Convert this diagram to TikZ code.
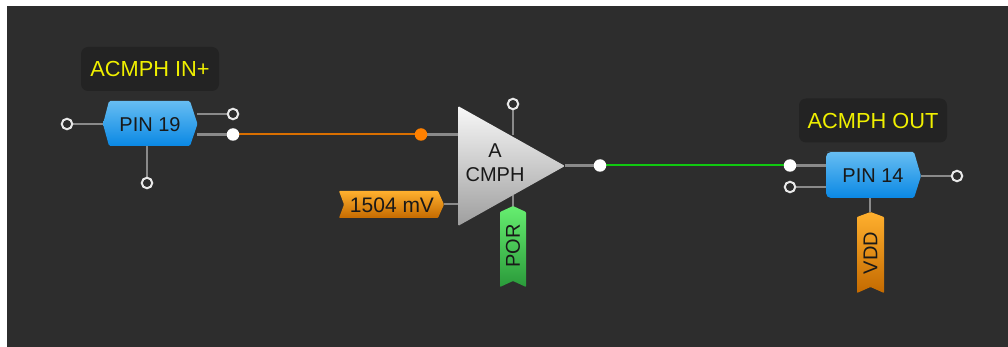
\documentclass[tikz,border=0pt]{standalone}
\usepackage{fontspec}
\usetikzlibrary{backgrounds}
\setmainfont{Liberation Sans}
\definecolor{bg}{HTML}{2D2D2D}
\definecolor{tagbg}{HTML}{232323}
\definecolor{wire}{HTML}{8A8A8A}
\definecolor{ringc}{HTML}{E8E8E8}
\definecolor{labely}{HTML}{F0F000}
\definecolor{blueT}{HTML}{66BDF2}
\definecolor{blueB}{HTML}{0A88E4}
\definecolor{orT}{HTML}{FFB02E}
\definecolor{orB}{HTML}{C46A00}
\definecolor{grT}{HTML}{66EE70}
\definecolor{grB}{HTML}{2A9A3A}
\definecolor{sigO}{HTML}{D96F00}
\definecolor{sigG}{HTML}{10C810}
\definecolor{odotc}{HTML}{FF8000}
\tikzset{
  x=1pt,y=-1pt,
  tag/.style={fill=tagbg,rounded corners=7pt,minimum height=44pt,inner sep=0pt,text=labely,font=\fontsize{21.8}{24}\selectfont},
  txt/.style={inner sep=0pt,text=black!90,font=\fontsize{20}{22}\selectfont},
  ring/.style={circle,draw=ringc,line width=2pt,fill=bg,minimum size=10.5pt,inner sep=0pt},
  dot/.style={circle,fill=white,minimum size=12.5pt,inner sep=0pt},
  odot/.style={circle,fill=odotc,minimum size=12.5pt,inner sep=0pt},
  wr/.style={draw=wire,line width=2.3pt},
  sig/.style={line width=2pt},
  bluebody/.style={top color=blueT,bottom color=blueB,rounded corners=1.5pt},
  orbody/.style={top color=orT,bottom color=orB,rounded corners=0.8pt},
  grbody/.style={top color=grT,bottom color=grB,rounded corners=0.8pt},
  tribody/.style={top color=white!97!black,bottom color=black!38,rounded corners=1.2pt}
}
\begin{document}
\begin{tikzpicture}
\useasboundingbox (0,0) rectangle (1008,347);
% anchor points
\coordinate (p19l) at (103,124);
\coordinate (p19a) at (197,114);
\coordinate (p19b) at (197,134.5);
\coordinate (p19d) at (147,146);
\coordinate (triA) at (458,134.5);
\coordinate (triB) at (458,204);
\coordinate (triT) at (513,135);
\coordinate (triD) at (513,195);
\coordinate (triO) at (565,165.5);
\coordinate (mvR) at (444,204);
\coordinate (porT) at (513,207);
\coordinate (p14a) at (826,165.5);
\coordinate (p14b) at (826,187);
\coordinate (p14r) at (921,176);
\coordinate (p14d) at (870,198);
\coordinate (vddT) at (870,212);
% terminals
\node[ring] (r1) at (67,124) {};
\node[ring] (r2) at (233,114) {};
\node[ring] (r3) at (147,183) {};
\node[ring] (r4) at (513,104) {};
\node[ring] (r5) at (790,187) {};
\node[ring] (r6) at (957,176) {};
\node[dot] (d1) at (233,134.5) {};
\node[odot] (d2) at (421,134.5) {};
\node[dot] (d3) at (600,165.5) {};
\node[dot] (d4) at (790,165.5) {};
% connectors
\begin{scope}[on background layer]
\fill[white] (0,0) rectangle (1008,347);
\fill[bg] (7,6) rectangle (1008,347);
\draw[wr] (r1) -- (p19l);
\draw[wr] (p19a) -- (r2);
\draw[wr] (p19b) -- (d1);
\draw[wr] (p19d) -- (r3);
\draw[wr] (d2) -- (triA);
\draw[wr] (r4) -- (triT);
\draw[wr] (mvR) -- (triB);
\draw[wr] (triD) -- (porT);
\draw[wr] (triO) -- (d3);
\draw[wr] (d4) -- (p14a);
\draw[wr] (r5) -- (p14b);
\draw[wr] (p14r) -- (r6);
\draw[wr] (p14d) -- (vddT);
\draw[sig,draw=sigO] (d1) -- (d2);
\draw[sig,draw=sigG] (d3) -- (d4);
\end{scope}
% bodies
\shade[bluebody] (109,101) -- (190,101) -- (197.5,124) -- (190,146) -- (109,146) -- (103,124) -- cycle;
\node[txt] (pin19) at (150,124.5) {PIN 19};
\shade[top color=blueT,bottom color=blueB] (832,152) -- (912,152) [rounded corners=1.5pt] -- (914,152) -- (921,176) -- (914,198) [rounded corners=5pt] -- (826,198) -- (826,152) -- cycle;
\node[txt] (pin14) at (873,176) {PIN 14};
\shade[tribody] (458,106) -- (565,166) -- (458,226) -- cycle;
\node[txt,align=center] (acmp) at (495,162.5) {A\\[2pt]CMPH};
\shade[orbody] (339,191) -- (438,191) -- (444,204.5) -- (438,218) -- (339,218) -- (344,204.5) -- cycle;
\node[txt,font=\fontsize{21}{23}\selectfont] (mv) at (392,205) {1504 mV};
\shade[grbody] (513,206) -- (526,212) -- (526,287) -- (513,281) -- (500,287) -- (500,212) -- cycle;
\node[txt,rotate=90] (por) at (513,246) {POR};
\shade[orbody] (870.5,212) -- (884,217) -- (884,293) -- (870.5,287) -- (857,293) -- (857,217) -- cycle;
\node[txt,rotate=90] (vdd) at (870.5,253) {VDD};
% labels
\node[tag,minimum width=138pt] (t1) at (150,69) {ACMPH IN+};
\node[tag,minimum width=148pt] (t2) at (873,120.5) {ACMPH OUT};
\end{tikzpicture}
\end{document}
